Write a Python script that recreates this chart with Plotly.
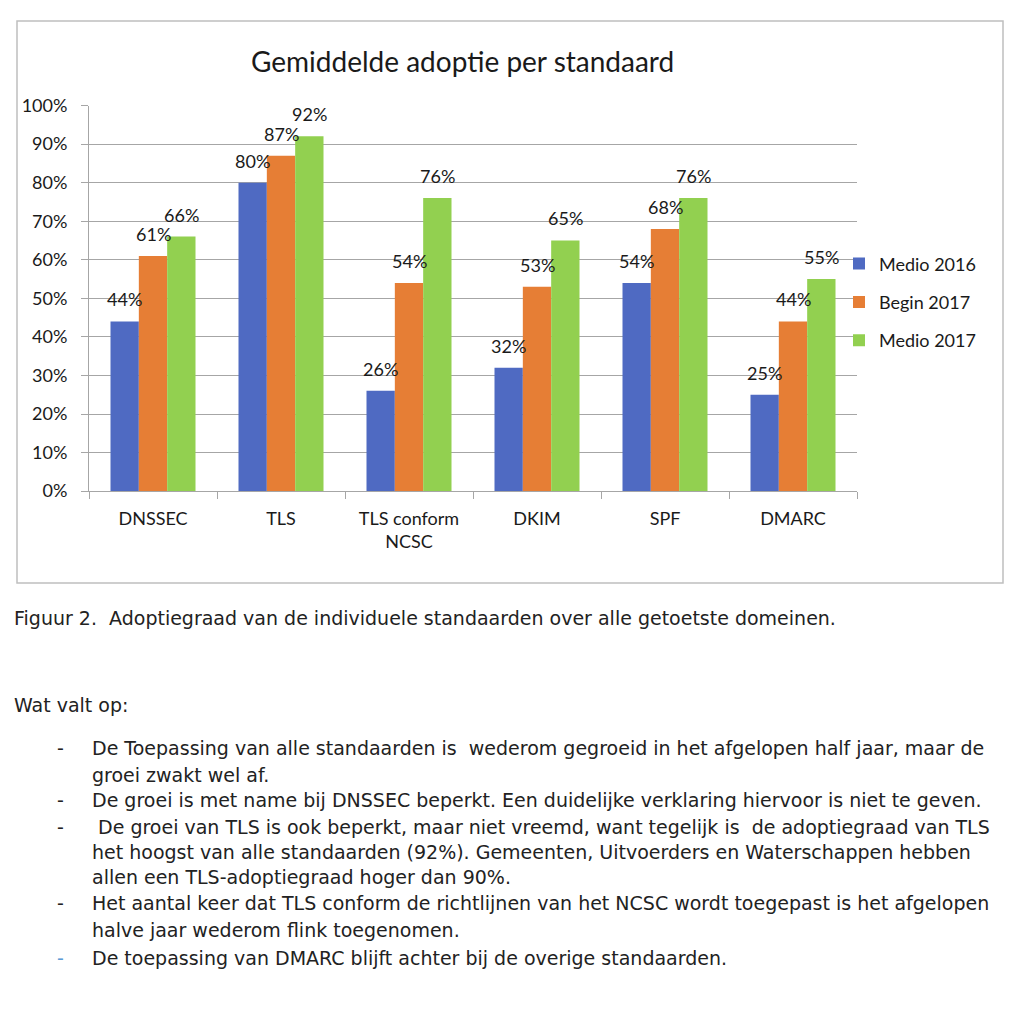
import plotly.graph_objects as go

categories = ["DNSSEC", "TLS", "TLS conform<br>NCSC", "DKIM", "SPF", "DMARC"]
series_names = ["Medio 2016", "Begin 2017", "Medio 2017"]
medio_2016 = [0.44, 0.80, 0.26, 0.32, 0.54, 0.25]
begin_2017 = [0.61, 0.87, 0.54, 0.53, 0.68, 0.44]
medio_2017 = [0.66, 0.92, 0.76, 0.65, 0.76, 0.55]
colors = ["#4F6AC2", "#E67E35", "#92D050"]

title_text = "Gemiddelde adoptie per standaard"
caption_text = "Figuur 2.\u00a0\u00a0Adoptiegraad van de individuele standaarden over alle getoetste domeinen."
intro_text = "Wat valt op:"
bullet_lines = [
    ("-", "De Toepassing van alle standaarden is\u00a0\u00a0wederom gegroeid in het afgelopen half jaar, maar de"),
    ("", "groei zwakt wel af."),
    ("-", "De groei is met name bij DNSSEC beperkt. Een duidelijke verklaring hiervoor is niet te geven."),
    ("-", "\u00a0De groei van TLS is ook beperkt, maar niet vreemd, want tegelijk is\u00a0\u00a0de adoptiegraad van TLS"),
    ("", "het hoogst van alle standaarden (92%). Gemeenten, Uitvoerders en Waterschappen hebben"),
    ("", "allen een TLS-adoptiegraad hoger dan 90%."),
    ("-", "Het aantal keer dat TLS conform de richtlijnen van het NCSC wordt toegepast is het afgelopen"),
    ("", "halve jaar wederom flink toegenomen."),
    ("-", "De toepassing van DMARC blijft achter bij de overige standaarden."),
]
bullet_colors = ["#222222"] * 8 + ["#5B9BD5"]

W, H = 1024, 1020
# page-to-figure calibration (page offset / effective height)
OFF_X, OFF_Y, H_EFF = 8.0, 19.4, 999.0


def fx(px):
    return (px - OFF_X) / W


def fy(py):
    return 1 - (py - OFF_Y) / H_EFF


# target geometry in page pixels
px_left, px_right = 89, 857
px_top, px_bottom = 105, 491
bargap = 0.336

chart_font = "Lato, 'Open Sans', sans-serif"
doc_font = "'DejaVu Sans', sans-serif"

fig = go.Figure()
all_series = [medio_2016, begin_2017, medio_2017]
for i, (name, vals) in enumerate(zip(series_names, all_series)):
    fig.add_trace(go.Bar(
        x=categories, y=vals, name=name, marker_color=colors[i],
        marker_line_width=0, legendgroup=f"g{i}",
    ))

# data labels
group_px = (px_right - px_left) / len(categories)
bar_px = group_px * (1 - bargap) / 3
for i, vals in enumerate(all_series):
    for c, v in zip(categories, vals):
        fig.add_annotation(
            x=c, y=v, xref="x", yref="y", text=f"{round(v*100)}%",
            showarrow=False, xshift=(i - 1) * bar_px, yshift=22,
            yanchor="middle", xanchor="center",
            font=dict(family=chart_font, size=18, color="#1a1a1a"),
        )

fig.update_layout(
    width=W, height=H,
    margin=dict(l=0, r=0, t=0, b=0),
    paper_bgcolor="white", plot_bgcolor="white",
    barmode="group", bargap=bargap, bargroupgap=0,
    font=dict(family=chart_font, size=18, color="#1a1a1a"),
    showlegend=True,
    legend=dict(
        x=fx(839), y=fy(245), xanchor="left", yanchor="top",
        font=dict(family=chart_font, size=18, color="#1a1a1a"),
        tracegroupgap=12, bgcolor="rgba(0,0,0,0)",
    ),
    xaxis=dict(
        domain=[fx(px_left), fx(px_right)],
        showline=True, linecolor="#A6A6A6", linewidth=1,
        ticks="outside", tickson="boundaries", ticklen=7, tickcolor="#A6A6A6",
        ticklabelstandoff=11,
        tickfont=dict(family=chart_font, size=18, color="#1a1a1a"),
    ),
    yaxis=dict(
        domain=[fy(px_bottom), fy(px_top)],
        range=[0, 1], dtick=0.1, tickformat=".0%",
        showgrid=True, gridcolor="#A6A6A6", gridwidth=1,
        showline=True, linecolor="#A6A6A6", linewidth=1,
        ticks="outside", ticklen=7, tickcolor="#A6A6A6",
        ticklabelstandoff=10, zeroline=False,
        tickfont=dict(family=chart_font, size=18, color="#1a1a1a"),
    ),
)

# chart frame
fig.add_shape(type="rect", xref="paper", yref="paper",
              x0=fx(17), x1=fx(1003), y0=fy(583), y1=min(fy(18), 0.999),
              line=dict(color="#BFBFBF", width=1.5), layer="below")

# title
fig.add_annotation(x=fx(462), y=fy(60), xref="paper", yref="paper",
                   text=title_text, showarrow=False, xanchor="center", yanchor="middle",
                   font=dict(family=chart_font, size=28, color="#1a1a1a"))

# caption & text
doc_size = 19
fig.add_annotation(x=fx(12), y=fy(618), xref="paper", yref="paper",
                   text=caption_text, showarrow=False, xanchor="left", yanchor="middle",
                   font=dict(family=doc_font, size=doc_size, color="#222222"))
fig.add_annotation(x=fx(12), y=fy(705), xref="paper", yref="paper",
                   text=intro_text, showarrow=False, xanchor="left", yanchor="middle",
                   font=dict(family=doc_font, size=doc_size, color="#222222"))
line_y = [748, 775, 800, 827, 852, 877, 903, 930, 958]
for (dash, txt), yy, col in zip(bullet_lines, line_y, bullet_colors):
    if dash:
        fig.add_annotation(x=fx(55), y=fy(yy), xref="paper", yref="paper",
                           text=dash, showarrow=False, xanchor="left", yanchor="middle",
                           font=dict(family=doc_font, size=doc_size, color=col))
    fig.add_annotation(x=fx(90), y=fy(yy), xref="paper", yref="paper",
                       text=txt, showarrow=False, xanchor="left", yanchor="middle",
                       font=dict(family=doc_font, size=doc_size, color="#222222"))

fig.write_html("out.html")
